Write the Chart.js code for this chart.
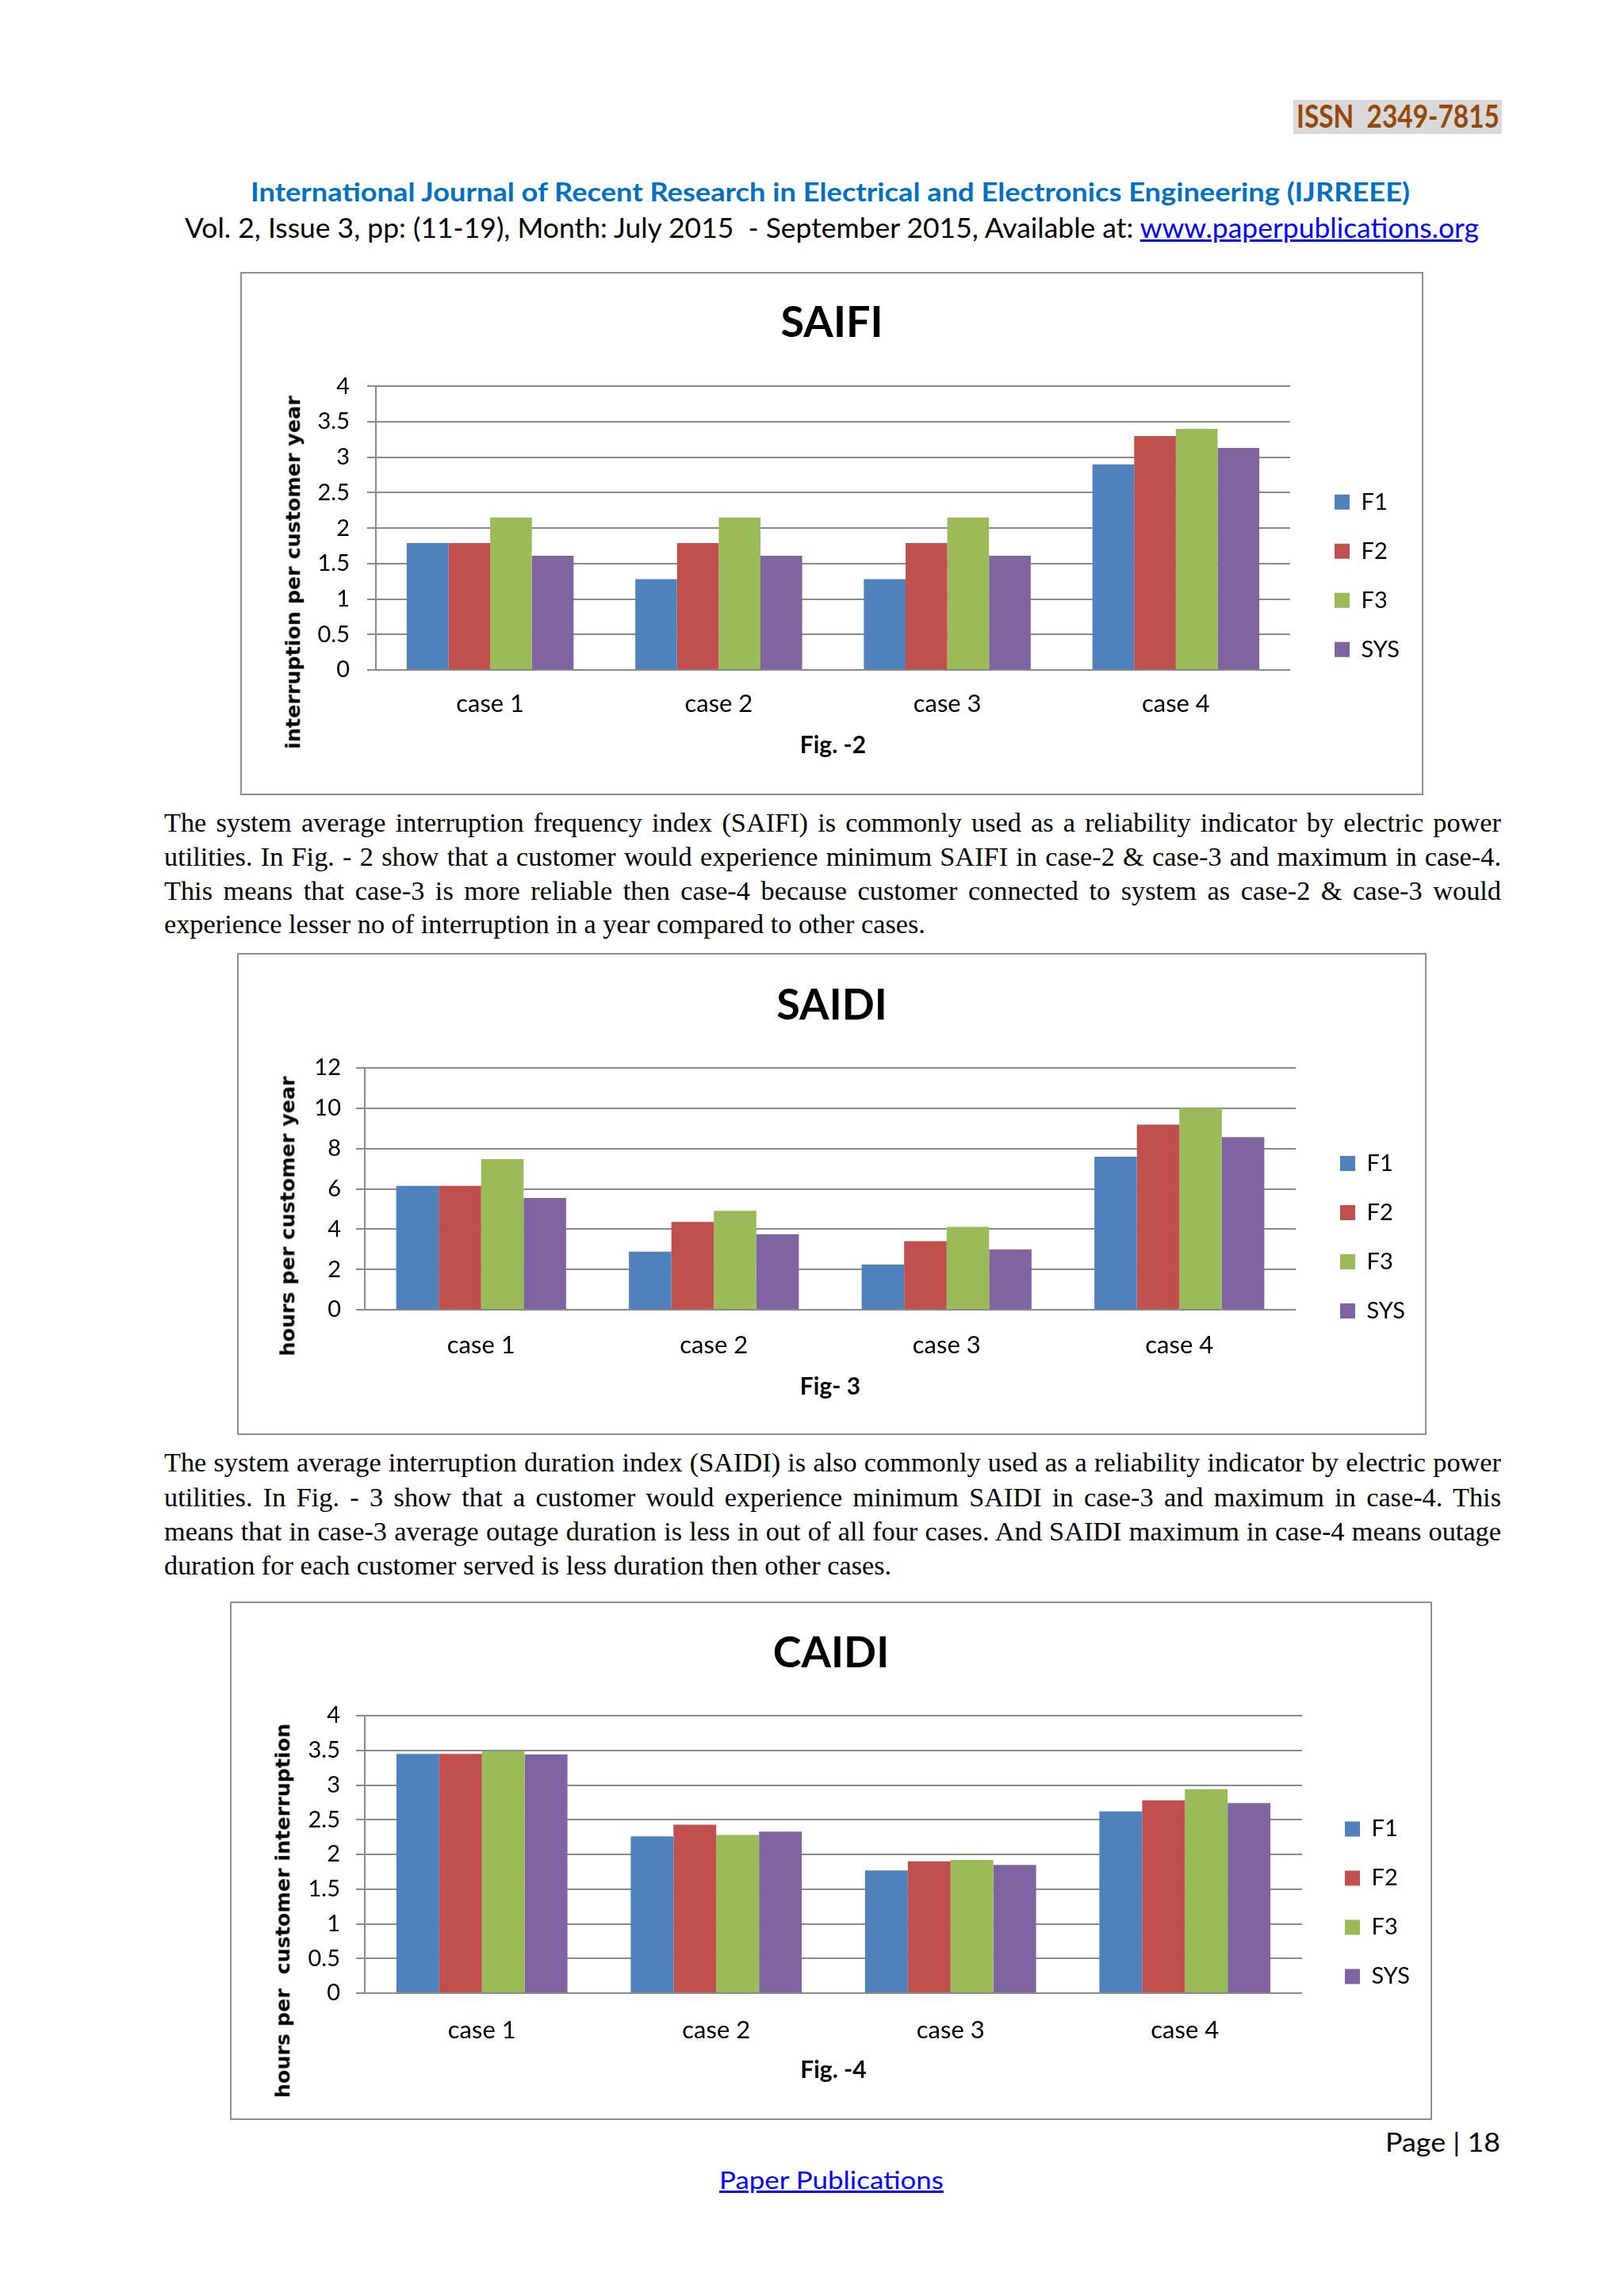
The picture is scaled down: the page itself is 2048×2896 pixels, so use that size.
<!DOCTYPE html>
<html>
<head>
<meta charset="utf-8">
<title>SAIFI / SAIDI / CAIDI</title>
<script src="https://cdn.jsdelivr.net/npm/chart.js@4.4.1/dist/chart.umd.min.js"></script>
<style>
  html, body { margin: 0; padding: 0; background: #ffffff; }
  body { position: relative; width: 2048px; height: 2896px; overflow: hidden; font-family: Lato, "Open Sans", sans-serif; }
  .fit { position: absolute; white-space: nowrap; transform-origin: 0 0; line-height: 1; }
  .line { position: absolute; left: 207px; width: 1686px; font-family: "Liberation Serif", serif; font-size: 34.3px; line-height: 34.4px; text-align: justify; text-align-last: justify; color: #000; }
  .line.last { text-align-last: left; }
  .frame { position: absolute; border: 2px solid #8f8f8f; background: #fff; }
  .frame canvas { display: block; }
  .ytitle { position: absolute; white-space: nowrap; line-height: 1; font-family: "DejaVu Sans", sans-serif; font-weight: 700; font-size: 25.4px; color: #000; transform: translate(-50%, -50%) rotate(-90deg); }
  a { color: #0000ff; text-decoration: underline; }
</style>
</head>
<body>

<div style="position:absolute;left:1631px;top:126px;width:263px;height:43px;background:#d9d9d9"></div>
<div class="fit" data-w="256" style="left:1635px;top:126px;font-size:40px;font-weight:700;color:#974806">ISSN&nbsp; 2349-7815</div>

<div class="fit" data-w="1462" style="left:316px;top:225px;font-size:33px;font-weight:700;color:#0070c0">International Journal of Recent Research in Electrical and Electronics Engineering (IJRREEE)</div>
<div class="fit" data-w="1632" style="left:233px;top:269px;font-size:35px;color:#000">Vol. 2, Issue 3, pp: (11-19), Month: July 2015&nbsp; - September 2015, Available at: <a>www.paperpublications.org</a></div>

<div class="frame" style="left:303px;top:343px"><canvas id="saifi" width="1488" height="656"></canvas></div>
<div class="ytitle" style="left:370px;top:722px">interruption per customer year</div>

<div class="line" style="top:1020px">The system average interruption frequency index (SAIFI) is commonly used as a reliability indicator by electric power</div>
<div class="line" style="top:1063px">utilities. In Fig. - 2 show that a customer would experience minimum SAIFI in case-2 &amp; case-3 and maximum in case-4.</div>
<div class="line" style="top:1106px">This means that case-3 is more reliable then case-4 because customer connected to system as case-2 &amp; case-3 would</div>
<div class="line last" style="top:1148px">experience lesser no of interruption in a year compared to other cases.</div>

<div class="frame" style="left:299px;top:1202px"><canvas id="saidi" width="1496" height="604"></canvas></div>
<div class="ytitle" style="left:363px;top:1534px">hours per customer year</div>

<div class="line" style="top:1827px">The system average interruption duration index (SAIDI) is also commonly used as a reliability indicator by electric power</div>
<div class="line" style="top:1871px">utilities. In Fig. - 3 show that a customer would experience minimum SAIDI in case-3 and maximum in case-4. This</div>
<div class="line" style="top:1914px">means that in case-3 average outage duration is less in out of all four cases. And SAIDI maximum in case-4 means outage</div>
<div class="line last" style="top:1957px">duration for each customer served is less duration then other cases.</div>

<div class="frame" style="left:290px;top:2020px"><canvas id="caidi" width="1512" height="650"></canvas></div>
<div class="ytitle" style="left:357px;top:2410px">hours per&nbsp; customer interruption</div>

<div class="fit" data-w="145" style="left:1747px;top:2686px;font-size:32px;color:#000">Page | 18</div>
<div class="fit" data-w="283" style="left:907px;top:2734px;font-size:30px"><a>Paper Publications</a></div>

<script>
  // data
  const cases = ['case 1', 'case 2', 'case 3', 'case 4']
  const seriesNames = ['F1', 'F2', 'F3', 'SYS']
  const seriesColors = ['#4f81bd', '#c0504d', '#9bbb59', '#8064a2']

  const saifiF1 = [1.79, 1.28, 1.28, 2.90]
  const saifiF2 = [1.79, 1.79, 1.79, 3.30]
  const saifiF3 = [2.15, 2.15, 2.15, 3.40]
  const saifiSYS = [1.61, 1.61, 1.61, 3.13]

  const saidiF1 = [6.15, 2.88, 2.24, 7.59]
  const saidiF2 = [6.15, 4.36, 3.40, 9.19]
  const saidiF3 = [7.48, 4.91, 4.11, 10.0]
  const saidiSYS = [5.55, 3.75, 2.99, 8.57]

  const caidiF1 = [3.45, 2.26, 1.77, 2.62]
  const caidiF2 = [3.45, 2.43, 1.90, 2.78]
  const caidiF3 = [3.49, 2.28, 1.92, 2.94]
  const caidiSYS = [3.44, 2.33, 1.85, 2.74]

  // squeeze the header/footer lines to the widths they have on the page
  document.querySelectorAll('.fit').forEach(el => {
    const w = el.getBoundingClientRect().width
    el.style.transform = 'scaleX(' + (+el.dataset.w / w) + ')'
  })

  // moves the legend a bit away from the plot, like Excel does,
  // and keeps the chart title centred on the whole frame
  const legendNudge = {
    id: 'legendNudge',
    afterLayout(chart, args, opts) {
      const lg = chart.legend
      if (lg) {
        lg.left += opts.dx; lg.right += opts.dx
        lg.top += opts.dy; lg.bottom += opts.dy
      }
      const tb = chart.titleBlock
      if (tb) {
        tb.left = 0
        tb.right = chart.width
        tb.width = chart.width
      }
    }
  }

  Chart.defaults.color = '#000'
  Chart.defaults.font.family = 'Lato'

  const LEG_FONT = 29, LEG_BOX = 19, LEG_PAD = 33
  const measure = document.createElement('canvas').getContext('2d')
  measure.font = LEG_FONT + 'px Lato'
  const legendWidth = LEG_PAD + LEG_BOX + LEG_FONT / 2 +
    Math.max(...seriesNames.map(s => measure.measureText(s).width)) + 10

  function makeChart(id, c) {
    const canvas = document.getElementById(id)
    return new Chart(canvas, {
      type: 'bar',
      data: {
        labels: cases,
        datasets: c.series.map((values, i) => ({
          label: seriesNames[i],
          data: values,
          backgroundColor: seriesColors[i],
          borderWidth: 0,
          categoryPercentage: 0.73,
          barPercentage: 1.0
        }))
      },
      options: {
        responsive: false,
        animation: false,
        devicePixelRatio: 1,
        layout: { padding: { left: 0, top: 0, right: canvas.width - c.plotRight - legendWidth, bottom: 0 } },
        plugins: {
          title: {
            display: true, text: c.title, color: '#000',
            font: { family: 'Lato', size: 54, weight: 'bold' },
            padding: { top: c.titleTop, bottom: c.titleBottom }
          },
          legend: {
            position: 'right',
            fullSize: false,
            labels: { boxWidth: LEG_BOX, boxHeight: LEG_BOX, padding: LEG_PAD, color: '#000', font: { family: 'Lato', size: LEG_FONT } }
          },
          legendNudge: { dx: c.dx, dy: c.dy },
          tooltip: { enabled: false }
        },
        scales: {
          x: {
            grid: { display: false, drawTicks: false },
            border: { display: false },
            ticks: { color: '#000', padding: c.catPad, font: { family: 'Lato', size: 31 } },
            title: {
              display: true, text: c.fig, color: '#000',
              font: { family: 'Lato', size: 30, weight: 'bold' },
              padding: { top: 0, bottom: c.figPad }
            },
            afterFit: (scale) => { scale.height = c.xHeight }
          },
          y: {
            min: 0,
            max: c.yMax,
            ticks: {
              stepSize: c.yStep, color: '#000', padding: c.tickPad,
              font: { family: 'Lato', size: 29 },
              callback: (v) => String(v)
            },
            grid: { color: '#8a8a8a', lineWidth: 2, tickLength: 11, drawTicks: true },
            border: { display: true, color: '#8a8a8a', width: 2 },
            afterFit: (scale) => { scale.width = c.yWidth }
          }
        }
      },
      plugins: [legendNudge]
    })
  }

  makeChart('saifi', {
    title: 'SAIFI', fig: 'Fig. -2',
    series: [saifiF1, saifiF2, saifiF3, saifiSYS], yMax: 4, yStep: 0.5,
    titleTop: 30.6, titleBottom: 46.9, xHeight: 156, catPad: 24.4, figPad: 43,
    yWidth: 169, tickPad: 22, plotRight: 1322, dx: 23, dy: 60
  })

  makeChart('saidi', {
    title: 'SAIDI', fig: 'Fig- 3',
    series: [saidiF1, saidiF2, saidiF3, saidiSYS], yMax: 12, yStep: 2,
    titleTop: 32.1, titleBottom: 46.1, xHeight: 156, catPad: 26.4, figPad: 41,
    yWidth: 159, tickPad: 19, plotRight: 1333, dx: 23, dy: 61
  })

  makeChart('caidi', {
    title: 'CAIDI', fig: 'Fig. -4',
    series: [caidiF1, caidiF2, caidiF3, caidiSYS], yMax: 4, yStep: 0.5,
    titleTop: 31.6, titleBottom: 45.6, xHeight: 158, catPad: 27.9, figPad: 43,
    yWidth: 168, tickPad: 20, plotRight: 1350, dx: 21, dy: 61
  })
</script>
</body>
</html>
